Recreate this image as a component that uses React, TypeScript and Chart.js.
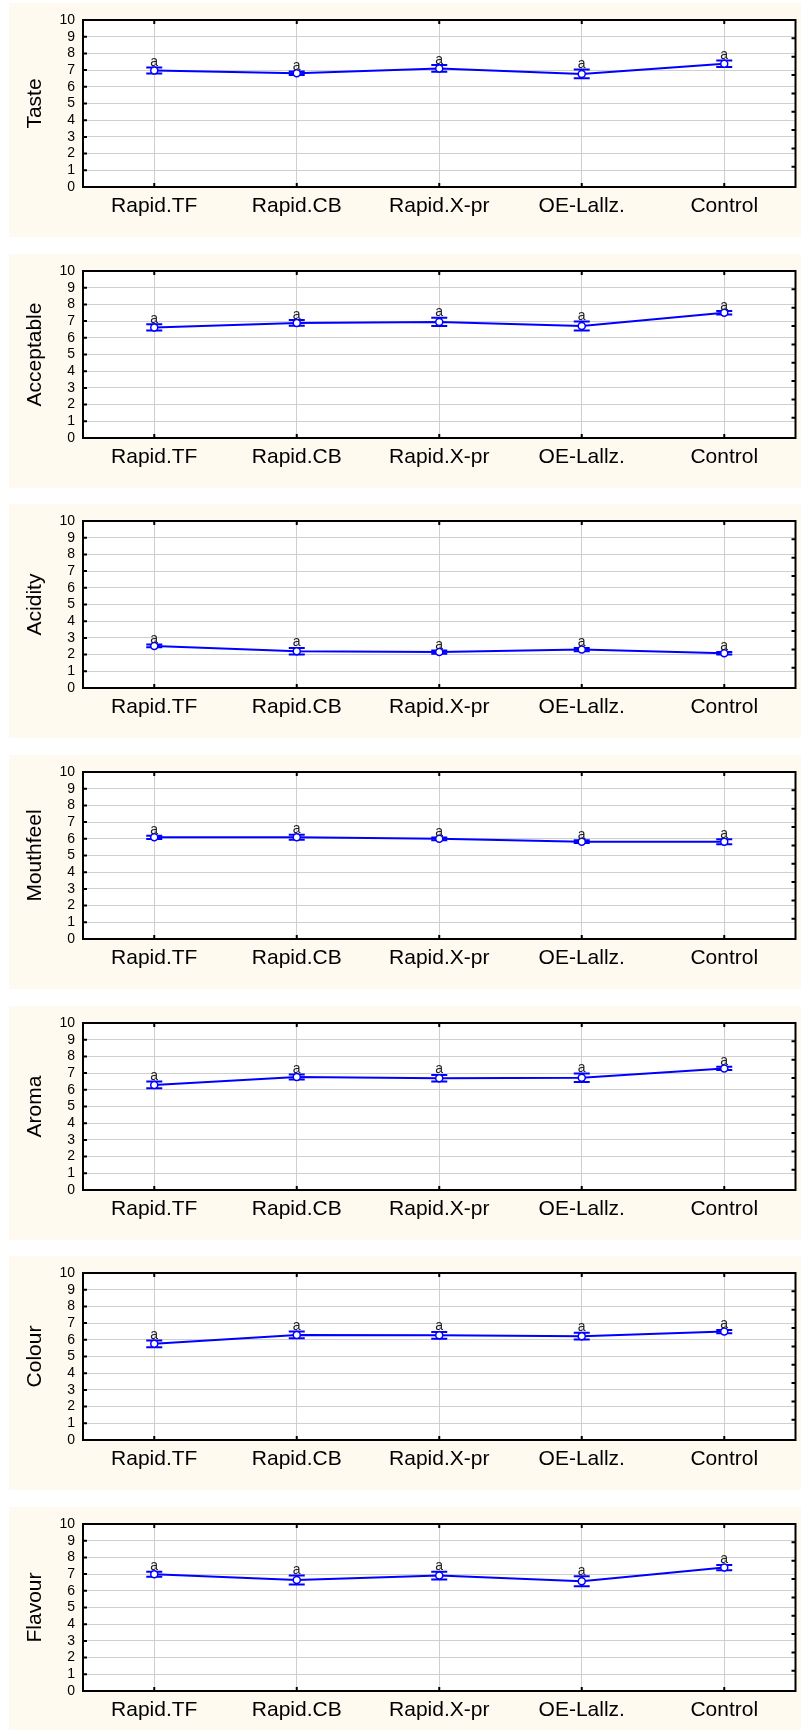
import React, { useEffect, useRef } from "react";
import { Chart, registerables } from "chart.js";

Chart.register(...registerables);

// ---------- data ----------
const categories = ["Rapid.TF", "Rapid.CB", "Rapid.X-pr", "OE-Lallz.", "Control"];
const yTickValues = [0, 1, 2, 3, 4, 5, 6, 7, 8, 9, 10];
const yMin = 0;
const yMax = 10;

const tasteMeans = [6.97, 6.81, 7.1, 6.77, 7.38];
const tasteErrors = [0.18, 0.1, 0.2, 0.26, 0.2];
const tasteLetters = ["a", "a", "a", "a", "a"];

const acceptableMeans = [6.62, 6.89, 6.95, 6.71, 7.5];
const acceptableErrors = [0.19, 0.17, 0.25, 0.27, 0.1];
const acceptableLetters = ["a", "a", "a", "a", "a"];

const acidityMeans = [2.52, 2.2, 2.15, 2.3, 2.08];
const acidityErrors = [0.08, 0.2, 0.1, 0.1, 0.08];
const acidityLetters = ["a", "a", "a", "a", "a"];

const mouthfeelMeans = [6.09, 6.1, 6.0, 5.83, 5.83];
const mouthfeelErrors = [0.1, 0.15, 0.08, 0.08, 0.15];
const mouthfeelLetters = ["a", "a", "a", "a", "a"];

const aromaMeans = [6.29, 6.76, 6.69, 6.72, 7.28];
const aromaErrors = [0.2, 0.15, 0.2, 0.25, 0.1];
const aromaLetters = ["a", "a", "a", "a", "a"];

const colourMeans = [5.76, 6.29, 6.27, 6.22, 6.49];
const colourErrors = [0.2, 0.2, 0.2, 0.2, 0.1];
const colourLetters = ["a", "a", "a", "a", "a"];

const flavourMeans = [6.99, 6.65, 6.91, 6.57, 7.39];
const flavourErrors = [0.15, 0.27, 0.23, 0.3, 0.16];
const flavourLetters = ["a", "a", "a", "a", "a"];

const panels = [
  { title: "Taste", means: tasteMeans, errors: tasteErrors, letters: tasteLetters },
  { title: "Acceptable", means: acceptableMeans, errors: acceptableErrors, letters: acceptableLetters },
  { title: "Acidity", means: acidityMeans, errors: acidityErrors, letters: acidityLetters },
  { title: "Mouthfeel", means: mouthfeelMeans, errors: mouthfeelErrors, letters: mouthfeelLetters },
  { title: "Aroma", means: aromaMeans, errors: aromaErrors, letters: aromaLetters },
  { title: "Colour", means: colourMeans, errors: colourErrors, letters: colourLetters },
  { title: "Flavour", means: flavourMeans, errors: flavourErrors, letters: flavourLetters },
];

// ---------- style ----------
const FONT = "'Liberation Sans', Arial, Helvetica, sans-serif";
const BLUE = "#0000ff";
const CREAM = "#fffaf0";
const GRID = "#cfcfcf";
const PANEL_W = 792;
const PANEL_H = 234;
const PLOT_TOP = 17;
const PLOT_H = 167;
const Y_AXIS_W = 74;

function makeDecor(errors: number[], letters: string[]) {
  return {
    id: "decor",
    beforeDraw(chart: any) {
      const ctx = chart.ctx;
      const { left, right, top, bottom } = chart.chartArea;
      ctx.save();
      ctx.fillStyle = "#ffffff";
      ctx.fillRect(left, top, right - left, bottom - top);
      ctx.restore();
    },
    beforeDatasetsDraw(chart: any) {
      const ctx = chart.ctx;
      const ys = chart.scales.y;
      const meta = chart.getDatasetMeta(0);
      const data = chart.data.datasets[0].data as number[];
      ctx.save();
      ctx.strokeStyle = BLUE;
      ctx.lineWidth = 2;
      meta.data.forEach((pt: any, i: number) => {
        const x = pt.x;
        const hi = ys.getPixelForValue(data[i] + errors[i]);
        const lo = ys.getPixelForValue(data[i] - errors[i]);
        ctx.beginPath();
        ctx.moveTo(x, hi);
        ctx.lineTo(x, lo);
        ctx.moveTo(x - 8, hi);
        ctx.lineTo(x + 8, hi);
        ctx.moveTo(x - 8, lo);
        ctx.lineTo(x + 8, lo);
        ctx.stroke();
      });
      ctx.restore();
    },
    afterDatasetsDraw(chart: any) {
      const ctx = chart.ctx;
      const ys = chart.scales.y;
      const meta = chart.getDatasetMeta(0);
      const data = chart.data.datasets[0].data as number[];
      ctx.save();
      ctx.fillStyle = "#222";
      ctx.font = `14px ${FONT}`;
      ctx.textAlign = "center";
      ctx.textBaseline = "alphabetic";
      meta.data.forEach((pt: any, i: number) => {
        const hi = ys.getPixelForValue(data[i] + errors[i]);
        ctx.fillText(letters[i], pt.x, hi - 1.5);
      });
      ctx.restore();
    },
    afterDraw(chart: any) {
      const ctx = chart.ctx;
      const { left, right, top, bottom } = chart.chartArea;
      const ys = chart.scales.y;
      const xs = chart.scales.x;
      ctx.save();
      ctx.strokeStyle = "#000";
      ctx.lineWidth = 2;
      ctx.beginPath();
      ys.ticks.forEach((t: any) => {
        const y = ys.getPixelForValue(t.value);
        ctx.moveTo(left, y);
        ctx.lineTo(left + 4, y);
      });
      const step = (bottom - top) / 9.1;
      for (let k = 1; k <= 8; k++) {
        const y = top + k * step;
        ctx.moveTo(right, y);
        ctx.lineTo(right - 4, y);
      }
      categories.forEach((_c, i) => {
        const x = xs.getPixelForValue(i);
        ctx.moveTo(x, top);
        ctx.lineTo(x, top + 4);
        ctx.moveTo(x, bottom);
        ctx.lineTo(x, bottom - 4);
      });
      ctx.stroke();
      ctx.strokeRect(left, top, right - left, bottom - top);
      ctx.restore();
    },
  };
}

function Panel({ p, top, height }: { p: any; top: number; height: number }) {
  const ref = useRef<HTMLCanvasElement | null>(null);
  useEffect(() => {
    if (!ref.current) return;
    const xAxisH = height - PLOT_TOP - PLOT_H;
    const chart = new Chart(ref.current, {
      type: "line",
      data: {
        labels: categories,
        datasets: [
          {
            data: p.means,
            borderColor: BLUE,
            borderWidth: 2,
            pointRadius: 3.5,
            pointBackgroundColor: "#ffffff",
            pointBorderColor: BLUE,
            pointBorderWidth: 1.5,
            tension: 0,
            fill: false,
          },
        ],
      },
      options: {
        animation: false,
        responsive: false,
        devicePixelRatio: 1,
        layout: { padding: { top: PLOT_TOP, right: 1, left: 0, bottom: 0 } },
        plugins: { legend: { display: false }, tooltip: { enabled: false } },
        scales: {
          x: {
            type: "category",
            offset: true,
            grid: { color: GRID, lineWidth: 1, drawTicks: false, offset: false },
            border: { display: false },
            ticks: {
              font: { size: 21, family: FONT },
              color: "#000",
              padding: 7,
              maxRotation: 0,
              autoSkip: false,
            },
            afterFit: (s: any) => {
              s.height = xAxisH;
            },
          },
          y: {
            min: yMin,
            max: yMax,
            grid: { color: GRID, lineWidth: 1, drawTicks: false },
            border: { display: false },
            ticks: {
              font: { size: 14, family: FONT },
              color: "#000",
              padding: 8,
              autoSkip: false,
            },
            afterBuildTicks: (s: any) => {
              s.ticks = yTickValues.map((v) => ({ value: v }));
            },
            title: {
              display: true,
              text: p.title,
              font: { size: 21, family: FONT },
              color: "#000",
              padding: { top: 14, bottom: 0 },
            },
            afterFit: (s: any) => {
              s.width = Y_AXIS_W;
            },
          },
        },
      },
      plugins: [makeDecor(p.errors, p.letters)],
    } as any);
    return () => chart.destroy();
  }, [p, height]);
  return (
    <div
      style={{
        position: "absolute",
        left: 9,
        top,
        width: PANEL_W,
        height,
        background: CREAM,
      }}
    >
      <canvas ref={ref} width={PANEL_W} height={height} style={{ display: "block" }} />
    </div>
  );
}

export default function App() {
  return (
    <div
      style={{
        position: "absolute",
        left: 0,
        top: 0,
        width: 801,
        height: 1733,
        overflow: "hidden",
        background: "#ffffff",
      }}
    >
      {panels.map((p, i) => {
        const top = Math.round(3 + i * 250.67);
        const height = Math.min(PANEL_H, 1730 - top);
        return <Panel key={p.title} p={p} top={top} height={height} />;
      })}
    </div>
  );
}
